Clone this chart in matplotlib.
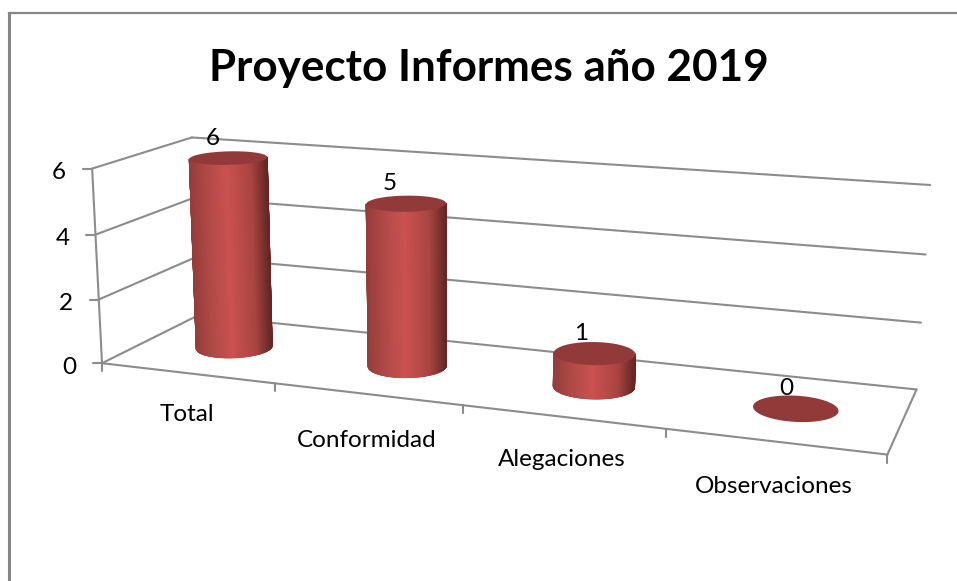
#! /usr/bin/python

import numpy as np
import matplotlib
matplotlib.use('Agg')
import matplotlib.pyplot as plt
from matplotlib.colors import LinearSegmentedColormap

categories = ['Total', 'Conformidad', 'Alegaciones', 'Observaciones']
values = [6, 5, 1, 0]
tick_values = [0, 2, 4, 6]
title = 'Proyecto Informes año 2019'
max_value = 6.0

# box corners as (u, v, h) -> pixel, used to fit the perspective of the 3d box
box_3d = [(0, 0, 0), (0, 0, 1), (0, 1, 0), (0, 1, 1), (1, 1, 0), (1, 1, 1), (1, 0, 0),
          (.25, 0, 0), (.5, 0, 0), (.75, 0, 0)]
box_px = [(103, 362), (91, 168), (197, 316), (193, 138), (917, 388), (930, 185), (887, 455),
          (276, 383), (463, 406), (666, 430)]

A = []
b = []
for (u, v, h), (px, py) in zip(box_3d, box_px):
    A.append([u, v, h, 1, 0, 0, 0, 0, -px * u, -px * v, -px * h])
    A.append([0, 0, 0, 0, u, v, h, 1, -py * u, -py * v, -py * h])
    b += [px, py]
cam = np.append(np.linalg.lstsq(np.array(A, float), np.array(b, float), rcond=None)[0], 1).reshape(3, 4)


def project(u, v, val):
    u, v, h = np.broadcast_arrays(u, v, val / max_value)
    p = cam @ np.array([u, v, h, np.ones_like(u)], float)
    return p[0] / p[2], p[1] / p[2]


fig = plt.figure(figsize=(9.57, 5.81), dpi=100)
ax = fig.add_axes([0, 0, 1, 1])
ax.set_xlim(0, 957)
ax.set_ylim(581, 0)
ax.axis('off')

plt.rcParams['font.family'] = ['Lato', 'DejaVu Sans']
grid = '#8c8c8c'
lw = 1.5
label_size = 17.5


def seg(p0, p1, z=1):
    ax.plot([p0[0], p1[0]], [p0[1], p1[1]], color=grid, lw=lw, solid_capstyle='round', zorder=z)


# chart frame
ax.plot([9, 957], [13, 13], color='#868686', lw=1.6)
ax.plot([9, 9], [13, 581], color='#868686', lw=2.2)

# walls and ticks
for t in tick_values:
    seg(project(0, 0, t), project(0, 1, t))
    seg(project(0, 1, t), project(1, 1, t))
    x, y = project(0, 0, t)
    seg((x - 9, y), (x, y))
    ax.text(x - 33, y + 4, str(t), fontsize=label_size, ha='center', va='center', color='black')
seg(project(0, 0, 0), project(0, 0, max_value))
seg(project(0, 0, 0), project(1, 0, 0))
seg(project(1, 0, 0), project(1, 1, 0))
for i in range(len(categories) + 1):
    x, y = project(i / len(categories), 0, 0)
    seg((x, y), (x, y + 8))

# cylinders
cmap = LinearSegmentedColormap.from_list('cyl', [(0, '#963d3a'), (.22, '#b04a47'), (.48, '#cb5250'),
                                                 (.8, '#a84442'), (1, '#642725')])
top_color = '#923a39'
ru, rv = 0.05, 0.2
theta = np.linspace(0, 2 * np.pi, 240, endpoint=False)
label_dx = [-16, -16, -13, -9]
name_dx = [0, -1, -1, -1]
name_dy = [41, 46, 43, 45]
for i, val in enumerate(values):
    uc = (i + .5) / len(values)
    uu = uc + ru * np.cos(theta)
    vv = 0.5 + rv * np.sin(theta)
    bx, by = project(uu, vv, 0)
    tx, ty = project(uu, vv, val)
    if val > 0:
        left, right = np.argmin(bx), np.argmax(bx)
        # front half of the circle, left to right
        idx = np.roll(np.arange(len(theta)), -left)
        idx = idx[:np.where(idx == right)[0][0] + 1]
        if np.mean(by[idx]) < np.mean(by):
            idx = np.roll(np.arange(len(theta))[::-1], -list(np.arange(len(theta))[::-1]).index(left))
            idx = idx[:np.where(idx == right)[0][0] + 1]
        X = np.array([bx[idx], tx[idx]])
        Y = np.array([by[idx], ty[idx]])
        C = (bx[idx] - bx[left]) / (bx[right] - bx[left])
        # soft under-layer so the mesh edges are not jagged
        ax.fill(bx, by, color=cmap(0.4), lw=0.6, zorder=2.5)
        ax.plot(X[:, 0], Y[:, 0], color=cmap(0.0), lw=0.8, zorder=2.5)
        ax.plot(X[:, -1], Y[:, -1], color=cmap(1.0), lw=0.8, zorder=2.5)
        ax.pcolormesh(X, Y, np.array([C, C]), cmap=cmap, vmin=0, vmax=1, shading='gouraud', zorder=3)
    ax.fill(tx, ty, color=top_color, lw=0, zorder=4)
    cx, cy = project(uc, 0.5, val)
    ax.text(cx + label_dx[i], cy - 20, str(val), fontsize=label_size, ha='center', va='center', color='black', zorder=5)

    fx, fy = project(uc, 0, 0)
    ax.text(fx + name_dx[i], fy + name_dy[i], categories[i], fontsize=label_size, ha='center', va='center', color='black')

ax.text(489, 68, title, fontsize=31.7, fontweight='bold', ha='center', va='center', color='black')

fig.savefig('out.png', dpi=100)
